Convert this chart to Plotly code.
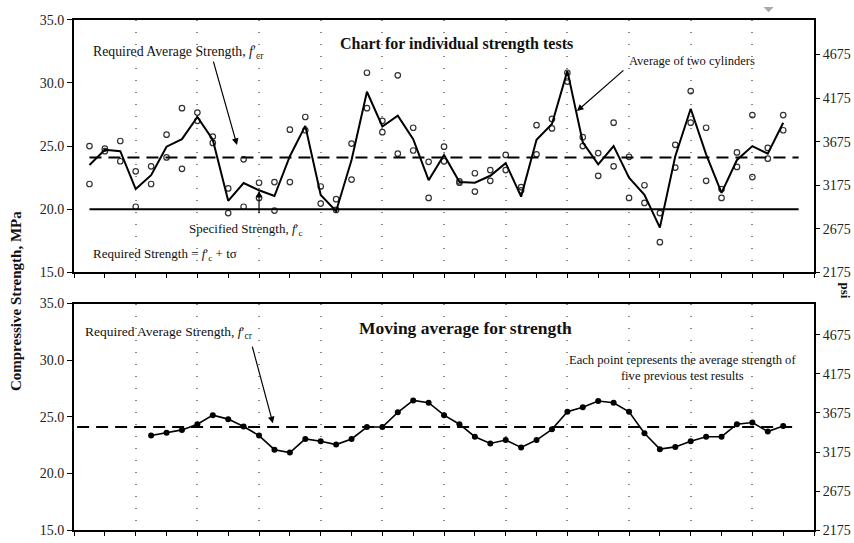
import plotly.graph_objects as go

# ---- data (MPa) ----
tests = list(range(1, 47))

cylinder_a = [25.0, 24.8, 25.4, 23.0, 23.4, 25.9, 28.0, 27.65, 25.75, 21.65,
              23.95, 22.1, 22.15, 26.3, 27.3, 21.8, 20.8, 25.2, 30.8, 27.0,
              30.6, 26.45, 23.75, 24.95, 22.2, 22.85, 23.1, 24.3, 21.75, 26.65,
              27.15, 30.8, 25.7, 24.45, 26.85, 24.15, 21.9, 19.7, 25.1, 29.35,
              26.45, 21.6, 24.5, 27.45, 24.85, 27.45]
cylinder_b = [22.0, 24.6, 23.8, 20.2, 22.0, 24.1, 23.2, 27.0, 25.25, 19.7,
              20.2, 20.9, 19.9, 22.15, 26.25, 20.45, 19.95, 22.35, 28.0, 26.1,
              24.4, 24.65, 20.9, 23.8, 22.1, 21.4, 22.25, 23.1, 21.5, 24.35,
              26.4, 30.1, 25.0, 22.65, 23.4, 20.9, 20.5, 17.4, 23.3, 26.85,
              22.25, 20.9, 23.35, 22.55, 24.0, 26.25]
pair_average = [23.5, 24.7, 24.6, 21.6, 22.7, 24.95, 25.55, 27.3, 25.5, 20.67,
                22.08, 21.5, 21.05, 24.2, 26.6, 21.13, 19.85, 23.9, 29.3, 26.55,
                27.4, 25.55, 22.3, 24.3, 22.15, 22.1, 22.65, 23.65, 21.0, 25.5,
                26.75, 30.95, 25.3, 23.55, 25.0, 22.5, 21.15, 18.55, 24.2, 27.95,
                24.35, 21.3, 23.9, 25.0, 24.4, 26.85]

ma_tests = list(range(5, 47))
moving_average = [23.35, 23.6, 23.85, 24.35, 25.15, 24.8, 24.15, 23.35, 22.1, 21.85,
                  23.05, 22.85, 22.55, 23.05, 24.1, 24.1, 25.4, 26.45, 26.25, 25.15,
                  24.35, 23.25, 22.65, 22.95, 22.3, 22.95, 23.9, 25.45, 25.85, 26.4,
                  26.25, 25.45, 23.55, 22.15, 22.35, 22.85, 23.25, 23.25, 24.35, 24.5,
                  23.7, 24.2]

f_cr = 24.1   # required average strength, MPa
f_c = 20.0    # specified strength, MPa
MPA_TO_PSI = 145.0
mpa_ticks = [15, 20, 25, 30, 35]
psi_ticks = [2175, 2675, 3175, 3675, 4175, 4675]

SERIF = "Liberation Serif, Times New Roman, serif"
X_DOMAIN = [0.0867, 0.9532]
TOP_DOMAIN = [0.4972, 0.976]
BOT_DOMAIN = [0.0092, 0.4383]

fig = go.Figure()

# individual cylinders
for vals in (cylinder_a, cylinder_b):
    fig.add_trace(go.Scatter(
        x=tests, y=vals, mode="markers", xaxis="x", yaxis="y",
        marker=dict(symbol="circle-open", size=5.5, color="#333",
                    line=dict(width=1.2, color="#333")),
        hoverinfo="skip"))

# average of two cylinders
fig.add_trace(go.Scatter(x=tests, y=pair_average, mode="lines",
                         xaxis="x", yaxis="y",
                         line=dict(color="black", width=2)))

# reference lines, top chart
fig.add_trace(go.Scatter(x=[1, 47], y=[f_c, f_c], mode="lines",
                         xaxis="x", yaxis="y",
                         line=dict(color="black", width=1.8)))
fig.add_trace(go.Scatter(x=[1, 47], y=[f_cr, f_cr], mode="lines",
                         xaxis="x", yaxis="y",
                         line=dict(color="black", width=2, dash="12px,7px")))

# psi axes carriers
fig.add_trace(go.Scatter(x=[1], y=[f_cr * MPA_TO_PSI], mode="markers",
                         xaxis="x", yaxis="y2", marker=dict(opacity=0),
                         hoverinfo="skip"))
fig.add_trace(go.Scatter(x=[1], y=[f_cr * MPA_TO_PSI], mode="markers",
                         xaxis="x2", yaxis="y4", marker=dict(opacity=0),
                         hoverinfo="skip"))

# moving average chart
fig.add_trace(go.Scatter(x=[0.2, 47], y=[f_cr, f_cr], mode="lines",
                         xaxis="x2", yaxis="y3",
                         line=dict(color="black", width=2, dash="12px,7px")))
fig.add_trace(go.Scatter(x=ma_tests, y=moving_average, mode="lines+markers",
                         xaxis="x2", yaxis="y3",
                         line=dict(color="black", width=1.6),
                         marker=dict(symbol="circle", size=6, color="black")))

tick_font = dict(family=SERIF, size=14, color="#222")


def x_axis(anchor):
    return dict(domain=X_DOMAIN, range=[0, 48], anchor=anchor,
                tick0=0, dtick=4, ticks="outside", ticklen=4, tickwidth=1,
                tickcolor="black", showticklabels=False,
                showgrid=True, gridcolor="#888", gridwidth=1.5,
                griddash="1.5px,10.5px",
                minor=dict(dtick=2, ticks="outside", ticklen=4,
                           tickcolor="black", showgrid=False),
                showline=True, linecolor="black", linewidth=2, mirror=True,
                zeroline=False)


def mpa_axis(domain, anchor):
    return dict(domain=domain, range=[15, 35], anchor=anchor,
                tickvals=mpa_ticks, tickformat=".1f", ticks="outside",
                ticklen=5, tickcolor="black", tickfont=tick_font,
                showgrid=False, zeroline=False,
                showline=True, linecolor="black", linewidth=2, mirror=True)


def psi_axis(overlay, anchor):
    return dict(overlaying=overlay, side="right", anchor=anchor,
                range=[15 * MPA_TO_PSI, 35 * MPA_TO_PSI],
                tickvals=psi_ticks, ticks="outside", ticklen=5,
                tickcolor="black", tickfont=tick_font,
                showgrid=False, zeroline=False, showline=False)


fig.update_layout(
    width=854, height=543,
    margin=dict(l=0, r=0, t=0, b=0),
    paper_bgcolor="white", plot_bgcolor="white",
    showlegend=False,
    font=dict(family=SERIF, color="#222"),
    xaxis=x_axis("y"),
    xaxis2=x_axis("y3"),
    yaxis=mpa_axis(TOP_DOMAIN, "x"),
    yaxis2=psi_axis("y", "x"),
    yaxis3=mpa_axis(BOT_DOMAIN, "x2"),
    yaxis4=psi_axis("y3", "x2"),
)

ann = []


def label(text, x, y, xanchor="left", size=13, bold=False, angle=0):
    t = f"<b>{text}</b>" if bold else text
    ann.append(dict(text=t, x=x, y=y, xref="paper", yref="paper",
                    xanchor=xanchor, yanchor="middle", showarrow=False,
                    textangle=angle,
                    font=dict(family=SERIF, size=size, color="#111")))


def arrow(x, y, xref, yref, ax, ay):
    ann.append(dict(text="", x=x, y=y, xref=xref, yref=yref, ax=ax, ay=ay,
                    showarrow=True, arrowhead=2, arrowsize=1.1,
                    arrowwidth=1.2, arrowcolor="black", standoff=0))


fcr = "<i>f</i>′<sub>cr</sub>"
fc = "<i>f</i>′<sub>c</sub>"

label("Chart for individual strength tests", 0.535, 0.930,
      xanchor="center", size=16, bold=True)
label("Required Average Strength, " + fcr, 0.1066, 0.914, size=13.8)
label("Average of two cylinders", 0.734, 0.897, size=12.5)
label("Specified Strength, " + fc, 0.219, 0.578)
label("Required Strength = " + fc + " + tσ", 0.1066, 0.531)

label("Moving average for strength", 0.5445, 0.392,
      xanchor="center", size=17.5, bold=True)
label("Required Average Strength, " + fcr, 0.0972, 0.384, size=13.5)
ann.append(dict(text="Each point represents the average strength of<br>"
                     "five previous test results",
                x=0.7986, y=0.317, xref="paper", yref="paper",
                xanchor="center", yanchor="middle", showarrow=False,
                font=dict(family=SERIF, size=12.6, color="#111")))

label("Compressive Strength, MPa", 0.0187, 0.443, xanchor="center",
      size=15, bold=True, angle=-90)
label("psi", 0.9895, 0.463, xanchor="center", size=13, bold=True, angle=90)

arrow(10.57, 25.08, "x", "y", -24, -85)
arrow(12.0, 21.46, "x", "y", 0, 24)
arrow(32.62, 27.77, "x", "y", 48, -42)
arrow(12.9, 24.44, "x2", "y3", -21, -78)

fig.update_layout(annotations=ann)

# small grey mark at the top edge
fig.add_shape(type="path", xref="paper", yref="paper",
              path="M 0.894 1.0 L 0.9 0.99 L 0.906 1.0 Z",
              fillcolor="#aaa", line=dict(width=0))

fig.write_html("out.html")
